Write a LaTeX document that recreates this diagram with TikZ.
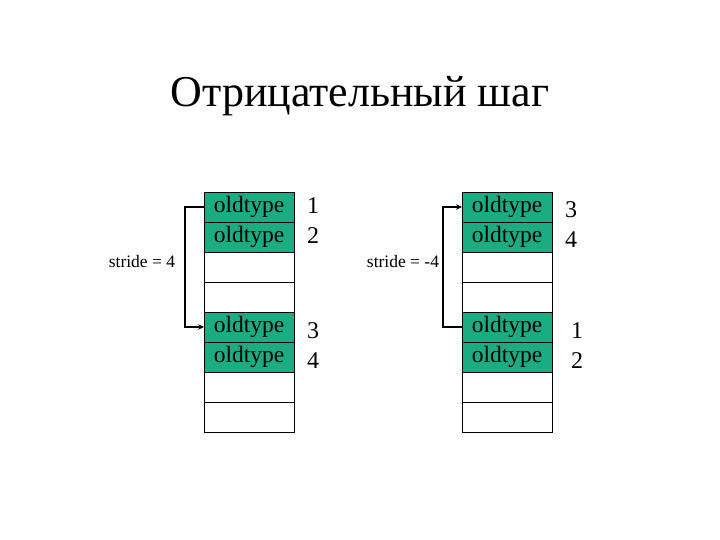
\documentclass[tikz,border=0pt]{standalone}
\usepackage{fontspec}
\setmainfont{Liberation Serif}
\usetikzlibrary{arrows.meta}
\definecolor{cellgreen}{RGB}{28,172,130}
\newcommand\otxt{\raisebox{-2.5pt}{oldtype}}
\begin{document}
\begin{tikzpicture}[x=1pt,y=-1pt,
  cell/.style={draw=black,line width=0.8pt,minimum width=90pt,minimum height=30pt,inner sep=0pt,outer sep=0pt,anchor=north west,font=\fontsize{23.5}{24}\selectfont},
  full/.style={cell,fill=cellgreen},
  num/.style={font=\fontsize{24}{26}\selectfont,inner sep=0pt},
  lbl/.style={font=\fontsize{17.5}{19}\selectfont,inner sep=0pt},
  jump/.style={line width=1.8pt,-{Stealth[length=6pt,width=5.5pt]}}]
\useasboundingbox (0,0) rectangle (720,540);
\node[font=\fontsize{44}{48}\selectfont,inner sep=0pt] (title) at (360,96) {Отрицательный шаг};
% left column
\node[full] (a1) at (204,192) {\otxt};
\node[full] (a2) at (204,222) {\otxt};
\node[cell] (a3) at (204,252) {};
\node[cell] (a4) at (204,282) {};
\node[full] (a5) at (204,312) {\otxt};
\node[full] (a6) at (204,342) {\otxt};
\node[cell] (a7) at (204,372) {};
\node[cell] (a8) at (204,402) {};
\node[num] (n1) at (313,206) {1};
\node[num] (n2) at (313,236) {2};
\node[num] (n3) at (313,331) {3};
\node[num] (n4) at (313,361) {4};
\node[lbl] (s1) at (142,262) {stride = 4};
\coordinate (c1) at (185,207);
\coordinate (c2) at (185,327);
\draw[jump] (a1.west) -- (c1) -- (c2) -- (a5.west);
% right column
\node[full] (b1) at (462,192) {\otxt};
\node[full] (b2) at (462,222) {\otxt};
\node[cell] (b3) at (462,252) {};
\node[cell] (b4) at (462,282) {};
\node[full] (b5) at (462,312) {\otxt};
\node[full] (b6) at (462,342) {\otxt};
\node[cell] (b7) at (462,372) {};
\node[cell] (b8) at (462,402) {};
\node[num] (m3) at (571,210) {3};
\node[num] (m4) at (571,240) {4};
\node[num] (m1) at (577,331) {1};
\node[num] (m2) at (577,361) {2};
\node[lbl] (s2) at (403,262) {stride = -4};
\coordinate (d1) at (443,327);
\coordinate (d2) at (443,207);
\draw[jump] (b5.west) -- (d1) -- (d2) -- (b1.west);
\end{tikzpicture}
\end{document}
